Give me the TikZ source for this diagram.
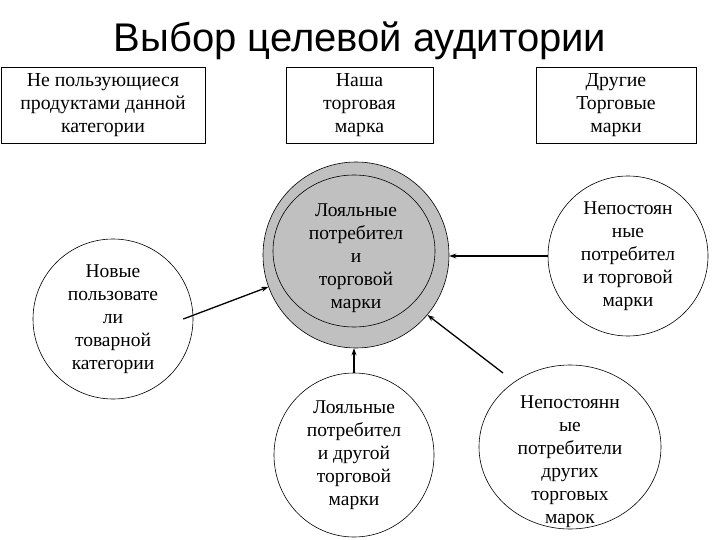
\documentclass[tikz,border=0pt]{standalone}
\usepackage{fontspec}
\setmainfont{Liberation Serif}
\newfontfamily\titlefont{Liberation Sans}
\usepackage{tikz}
\usetikzlibrary{arrows.meta, shapes.geometric}
\definecolor{ringgray}{RGB}{192,192,192}
\newcommand{\bodysize}{\fontsize{19.5}{23}\selectfont}
\newcommand{\boxsize}{\fontsize{19.8}{23}\selectfont}

\begin{document}
\begin{tikzpicture}[x=1pt, y=-1pt, font=\bodysize,
    box/.style={draw, line width=0.8pt, minimum height=76pt, inner sep=0pt, align=center, font=\boxsize},
    seg/.style={draw, circle, line width=0.6pt, inner sep=0pt, align=center},
    link/.style={-{Stealth[length=7pt,width=5pt]}, line width=1.3pt}]
  \useasboundingbox (0,0) rectangle (720,540);
  \node[anchor=base, font=\titlefont\fontsize{40}{48}\selectfont] (title) at (360,52) {Выбор целевой аудитории};
  % top boxes
  \node[box, minimum width=204pt] (nonusers) at (103,105) {Не пользующиеся\\продуктами данной\\категории};
  \node[box, minimum width=147pt] (ourbrand) at (359.5,105) {Наша\\торговая\\марка};
  \node[box, minimum width=160pt] (otherbrand) at (616,105) {Другие\\Торговые\\марки};
  % center: loyal to our brand
  \node[seg, fill=ringgray, minimum size=186pt] (loyal) at (356,255) {};
  \node[seg, ellipse, fill=ringgray, minimum width=162pt, minimum height=152pt] (loyalin) at (354,251) {};
  \node[align=center] (loyaltxt) at (356,258) {Лояльные\\потребител\\и\\торговой\\марки};
  % segments around
  \node[seg, minimum size=160pt] (newusers) at (113,319) {Новые\\пользовате\\ли\\товарной\\категории};
  \node[seg, minimum size=160pt] (switchers) at (628,256) {Непостоян\\ные\\потребител\\и торговой\\марки};
  \node[seg, ellipse, minimum width=160pt, minimum height=164pt] (otherloyal) at (354,455) {Лояльные\\потребител\\и другой\\торговой\\марки};
  \node[seg, ellipse, minimum width=182pt, minimum height=164pt] (otherswitch) at (570,447) {};
  \node[align=center] (otherswitchtxt) at (570,462) {Непостоянн\\ые\\потребители\\других\\торговых\\марок};
  % arrows into the center
  \coordinate (switchtail) at (503,373);
  \draw[link] ([xshift=-10pt]newusers.east) -- (loyal.200);
  \draw[link] (switchers.west) -- (switchers.west -| loyal.east);
  \draw[link] (otherloyal.north) -- (otherloyal.north |- loyal.south);
  \draw[link] (switchtail) -- (loyal.-40);
\end{tikzpicture}
\end{document}
